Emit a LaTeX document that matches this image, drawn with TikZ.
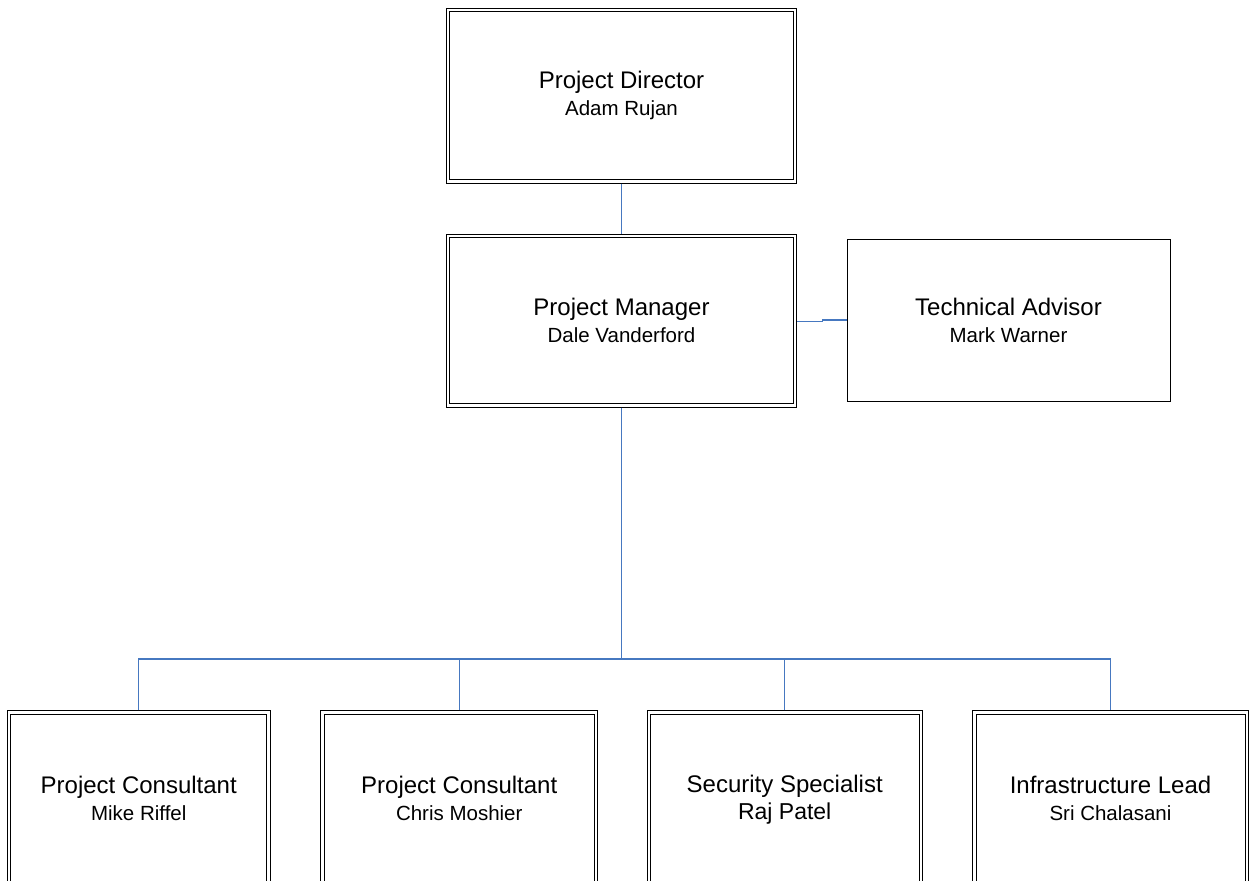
\documentclass[tikz,border=0pt]{standalone}
\usepackage{fontspec}
\setmainfont{Liberation Sans}
\definecolor{connblue}{RGB}{70,120,192}
\newcommand{\nm}[1]{{\fontsize{20.5}{27}\selectfont #1}}
\begin{document}
\begin{tikzpicture}[x=1pt,y=-1pt,
  dbox/.style={draw=black, double, double distance=2.4pt, line width=1pt,
    outer sep=2.2pt, align=center, inner sep=0pt,
    font=\fontsize{24}{27}\selectfont},
  sbox/.style={draw=black, line width=1pt, align=center, inner sep=0pt,
    font=\fontsize{24}{27}\selectfont},
  conn/.style={draw=connblue, line width=1.25pt}]
\useasboundingbox (0,0) rectangle (1251,881);
\clip (0,0) rectangle (1251,881);

\node[dbox, minimum width=347pt, minimum height=171.5pt] (pd) at (621.5,95.75)
  {Project Director\\\nm{Adam Rujan}};
\node[dbox, minimum width=347pt, minimum height=169.5pt] (pm) at (621.5,320.75)
  {Project Manager\\\nm{Dale Vanderford}};
\node[sbox, minimum width=323pt, minimum height=162pt] (ta) at (1008.5,320)
  {Technical Advisor\\\nm{Mark Warner}};

\node[dbox, minimum width=259.5pt, minimum height=171pt] (c1) at (138.75,798)
  {Project Consultant\\\nm{Mike Riffel}};
\node[dbox, minimum width=273.5pt, minimum height=171pt] (c2) at (459.25,798)
  {Project Consultant\\\nm{Chris Moshier}};
\node[dbox, minimum width=272pt, minimum height=171pt, text depth=2pt] (c3) at (784.7,798)
  {Security Specialist\\{\fontsize{23}{26}\selectfont Raj Patel}};
\node[dbox, minimum width=272.4pt, minimum height=171pt] (c4) at (1110.5,798)
  {Infrastructure Lead\\\nm{Sri Chalasani}};

\coordinate (bus) at (621.5,659);
\coordinate (jog) at (822.7,321.5);

\draw[conn] (pd.south) -- (pm.north);
\draw[conn] (pm.east |- jog) -- (jog) -- (jog |- ta.west) -- (ta.west);
\draw[conn] (pm.south) -- (bus);
\draw[conn] (c1.north) |- (bus) -| (c4.north);
\draw[conn] (c2.north) -- (c2.north |- bus);
\draw[conn] (c3.north) -- (c3.north |- bus);
\end{tikzpicture}
\end{document}
